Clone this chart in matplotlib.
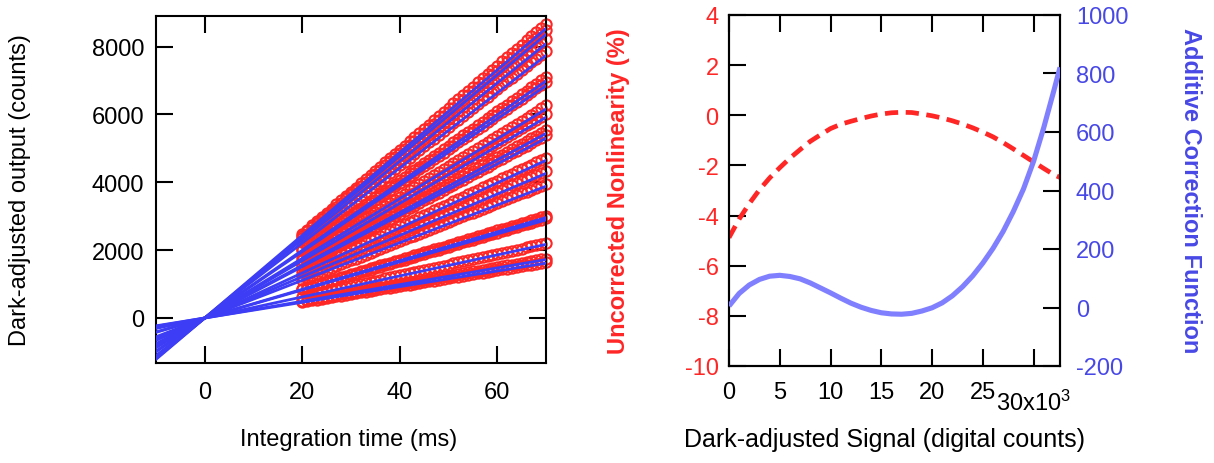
import matplotlib
matplotlib.use("Agg")
import matplotlib.pyplot as plt

plt.rcParams['font.family'] = ['Liberation Sans', 'DejaVu Sans']
plt.rcParams['axes.unicode_minus'] = False
plt.rcParams['mathtext.fontset'] = 'custom'
plt.rcParams['mathtext.rm'] = 'Liberation Sans'
plt.rcParams['mathtext.it'] = 'Liberation Sans:italic'
plt.rcParams['mathtext.bf'] = 'Liberation Sans:bold'

# ---------------- left panel data ----------------
integration_ms = [20, 21, 22, 23, 24, 25, 26, 27, 28, 29, 30, 31, 32, 33, 34, 35,
                  36, 37, 38, 39, 40, 41, 42, 43, 44, 45, 46, 47, 48, 49, 50, 51,
                  52, 53, 54, 55, 56, 57, 58, 59, 60, 61, 62, 63, 64, 65, 66, 67,
                  68, 69, 70]

red_counts = [
    [2480, 2604, 2728, 2852, 2976, 3100, 3224, 3348, 3472, 3596, 3720, 3844, 3968, 4092, 4216, 4340, 4464, 4588, 4712, 4836, 4960, 5084, 5208, 5332, 5456, 5580, 5704, 5828, 5952, 6076, 6200, 6324, 6448, 6572, 6696, 6820, 6944, 7068, 7192, 7316, 7440, 7564, 7688, 7812, 7936, 8060, 8184, 8308, 8432, 8556, 8680],
    [2430, 2552, 2673, 2795, 2916, 3038, 3159, 3281, 3402, 3524, 3645, 3767, 3888, 4010, 4131, 4253, 4374, 4496, 4617, 4739, 4860, 4982, 5103, 5225, 5346, 5468, 5589, 5711, 5832, 5954, 6075, 6197, 6318, 6440, 6561, 6683, 6804, 6926, 7047, 7169, 7290, 7412, 7533, 7655, 7776, 7898, 8019, 8141, 8262, 8384, 8505],
    [2350, 2468, 2585, 2703, 2820, 2938, 3055, 3173, 3290, 3408, 3525, 3643, 3760, 3878, 3995, 4113, 4230, 4348, 4465, 4583, 4700, 4818, 4935, 5053, 5170, 5288, 5405, 5523, 5640, 5758, 5875, 5993, 6110, 6228, 6345, 6463, 6580, 6698, 6815, 6933, 7050, 7168, 7285, 7403, 7520, 7638, 7755, 7873, 7990, 8108, 8225],
    [2250, 2363, 2475, 2588, 2700, 2813, 2925, 3038, 3150, 3263, 3375, 3488, 3600, 3713, 3825, 3938, 4050, 4163, 4275, 4388, 4500, 4613, 4725, 4838, 4950, 5063, 5175, 5288, 5400, 5513, 5625, 5738, 5850, 5963, 6075, 6188, 6300, 6413, 6525, 6638, 6750, 6863, 6975, 7088, 7200, 7313, 7425, 7538, 7650, 7763, 7875],
    [2030, 2132, 2233, 2335, 2436, 2538, 2639, 2741, 2842, 2944, 3045, 3147, 3248, 3350, 3451, 3553, 3654, 3756, 3857, 3959, 4060, 4162, 4263, 4365, 4466, 4568, 4669, 4771, 4872, 4974, 5075, 5177, 5278, 5380, 5481, 5583, 5684, 5786, 5887, 5989, 6090, 6192, 6293, 6395, 6496, 6598, 6699, 6801, 6902, 7004, 7105],
    [1990, 2090, 2189, 2289, 2388, 2488, 2587, 2687, 2786, 2886, 2985, 3085, 3184, 3284, 3383, 3483, 3582, 3682, 3781, 3881, 3980, 4080, 4179, 4279, 4378, 4478, 4577, 4677, 4776, 4876, 4975, 5075, 5174, 5274, 5373, 5473, 5572, 5672, 5771, 5871, 5970, 6070, 6169, 6269, 6368, 6468, 6567, 6667, 6766, 6866, 6965],
    [1790, 1880, 1969, 2059, 2148, 2238, 2327, 2417, 2506, 2596, 2685, 2775, 2864, 2954, 3043, 3133, 3222, 3312, 3401, 3491, 3580, 3670, 3759, 3849, 3938, 4028, 4117, 4207, 4296, 4386, 4475, 4565, 4654, 4744, 4833, 4923, 5012, 5102, 5191, 5281, 5370, 5460, 5549, 5639, 5728, 5818, 5907, 5997, 6086, 6176, 6265],
    [1720, 1806, 1892, 1978, 2064, 2150, 2236, 2322, 2408, 2494, 2580, 2666, 2752, 2838, 2924, 3010, 3096, 3182, 3268, 3354, 3440, 3526, 3612, 3698, 3784, 3870, 3956, 4042, 4128, 4214, 4300, 4386, 4472, 4558, 4644, 4730, 4816, 4902, 4988, 5074, 5160, 5246, 5332, 5418, 5504, 5590, 5676, 5762, 5848, 5934, 6020],
    [1580, 1659, 1738, 1817, 1896, 1975, 2054, 2133, 2212, 2291, 2370, 2449, 2528, 2607, 2686, 2765, 2844, 2923, 3002, 3081, 3160, 3239, 3318, 3397, 3476, 3555, 3634, 3713, 3792, 3871, 3950, 4029, 4108, 4187, 4266, 4345, 4424, 4503, 4582, 4661, 4740, 4819, 4898, 4977, 5056, 5135, 5214, 5293, 5372, 5451, 5530],
    [1540, 1617, 1694, 1771, 1848, 1925, 2002, 2079, 2156, 2233, 2310, 2387, 2464, 2541, 2618, 2695, 2772, 2849, 2926, 3003, 3080, 3157, 3234, 3311, 3388, 3465, 3542, 3619, 3696, 3773, 3850, 3927, 4004, 4081, 4158, 4235, 4312, 4389, 4466, 4543, 4620, 4697, 4774, 4851, 4928, 5005, 5082, 5159, 5236, 5313, 5390],
    [1350, 1418, 1485, 1553, 1620, 1688, 1755, 1823, 1890, 1958, 2025, 2093, 2160, 2228, 2295, 2363, 2430, 2498, 2565, 2633, 2700, 2768, 2835, 2903, 2970, 3038, 3105, 3173, 3240, 3308, 3375, 3443, 3510, 3578, 3645, 3713, 3780, 3848, 3915, 3983, 4050, 4118, 4185, 4253, 4320, 4388, 4455, 4523, 4590, 4658, 4725],
    [1240, 1302, 1364, 1426, 1488, 1550, 1612, 1674, 1736, 1798, 1860, 1922, 1984, 2046, 2108, 2170, 2232, 2294, 2356, 2418, 2480, 2542, 2604, 2666, 2728, 2790, 2852, 2914, 2976, 3038, 3100, 3162, 3224, 3286, 3348, 3410, 3472, 3534, 3596, 3658, 3720, 3782, 3844, 3906, 3968, 4030, 4092, 4154, 4216, 4278, 4340],
    [1130, 1187, 1243, 1300, 1356, 1413, 1469, 1526, 1582, 1639, 1695, 1752, 1808, 1865, 1921, 1978, 2034, 2091, 2147, 2204, 2260, 2317, 2373, 2430, 2486, 2543, 2599, 2656, 2712, 2769, 2825, 2882, 2938, 2995, 3051, 3108, 3164, 3221, 3277, 3334, 3390, 3447, 3503, 3560, 3616, 3673, 3729, 3786, 3842, 3899, 3955],
    [860, 903, 946, 989, 1032, 1075, 1118, 1161, 1204, 1247, 1290, 1333, 1376, 1419, 1462, 1505, 1548, 1591, 1634, 1677, 1720, 1763, 1806, 1849, 1892, 1935, 1978, 2021, 2064, 2107, 2150, 2193, 2236, 2279, 2322, 2365, 2408, 2451, 2494, 2537, 2580, 2623, 2666, 2709, 2752, 2795, 2838, 2881, 2924, 2967, 3010],
    [840, 882, 924, 966, 1008, 1050, 1092, 1134, 1176, 1218, 1260, 1302, 1344, 1386, 1428, 1470, 1512, 1554, 1596, 1638, 1680, 1722, 1764, 1806, 1848, 1890, 1932, 1974, 2016, 2058, 2100, 2142, 2184, 2226, 2268, 2310, 2352, 2394, 2436, 2478, 2520, 2562, 2604, 2646, 2688, 2730, 2772, 2814, 2856, 2898, 2940],
    [630, 662, 693, 725, 756, 788, 819, 851, 882, 914, 945, 977, 1008, 1040, 1071, 1103, 1134, 1166, 1197, 1229, 1260, 1292, 1323, 1355, 1386, 1418, 1449, 1481, 1512, 1544, 1575, 1607, 1638, 1670, 1701, 1733, 1764, 1796, 1827, 1859, 1890, 1922, 1953, 1985, 2016, 2048, 2079, 2111, 2142, 2174, 2205],
    [500, 525, 550, 575, 600, 625, 650, 675, 700, 725, 750, 775, 800, 825, 850, 875, 900, 925, 950, 975, 1000, 1025, 1050, 1075, 1100, 1125, 1150, 1175, 1200, 1225, 1250, 1275, 1300, 1325, 1350, 1375, 1400, 1425, 1450, 1475, 1500, 1525, 1550, 1575, 1600, 1625, 1650, 1675, 1700, 1725, 1750],
    [470, 494, 517, 541, 564, 588, 611, 635, 658, 682, 705, 729, 752, 776, 799, 823, 846, 870, 893, 917, 940, 964, 987, 1011, 1034, 1058, 1081, 1105, 1128, 1152, 1175, 1199, 1222, 1246, 1269, 1293, 1316, 1340, 1363, 1387, 1410, 1434, 1457, 1481, 1504, 1528, 1551, 1575, 1598, 1622, 1645],
]

# slopes (counts per ms) of the fitted lines through the origin
fit_slopes = [121.9, 119.4, 115.5, 110.6, 99.8, 97.8, 88.0, 84.5, 77.7, 75.7,
              66.4, 60.9, 55.5, 42.3, 41.3, 31.0, 24.6, 23.1]
fit_span_ms = [-10, 70]

left_xticks = [0, 20, 40, 60]
left_yticks = [0, 2000, 4000, 6000, 8000]

# ---------------- right panel data ----------------
signal_k = [0, 1, 2, 3, 4, 5, 6, 7, 8, 9, 10, 11, 12, 13, 14, 15, 16, 17, 18,
            19, 20, 21, 22, 23, 24, 25, 26, 27, 28, 29, 30, 31, 32, 32.6]
nonlinearity_pct = [-4.88, -4.14, -3.52, -2.97, -2.50, -2.09, -1.71, -1.37, -1.04,
                    -0.78, -0.53, -0.36, -0.24, -0.13, -0.03, 0.05, 0.10, 0.12,
                    0.11, 0.05, -0.02, -0.11, -0.22, -0.35, -0.50, -0.67, -0.86,
                    -1.09, -1.34, -1.60, -1.86, -2.12, -2.37, -2.48]
correction = [5, 48, 77, 96, 107, 110, 106, 98, 84, 67, 50, 32, 15, 1, -10, -18,
              -22, -23, -20, -12, -1, 16, 40, 71, 108, 152, 202, 260, 328, 405,
              500, 615, 742, 821]

right_xticks = [0, 5, 10, 15, 20, 25, 30]
right_xticklabels = ['0', '5', '10', '15', '20', '25', '']
left_pct_ticks = [-10, -8, -6, -4, -2, 0, 2, 4]
right_corr_ticks = [-200, 0, 200, 400, 600, 800, 1000]

RED = '#ff2626'
BLUE_LINE = '#3d3df5'
BLUE_CURVE = '#8080ff'
BLUE_TEXT = '#4848e6'

W, H = 1214, 464
fig = plt.figure(figsize=(W / 100, H / 100), dpi=100)

TL = 12.2   # tick length (pt)
TW = 1.5
SW = 1.5
TICKFS = 17
LABFS = 17

# ---------------- left panel ----------------
ax1 = fig.add_axes([156 / W, 1 - 364 / H, 390 / W, 347 / H])
for k, row in enumerate(red_counts):
    ax1.plot(integration_ms, row, linestyle='none', marker='o', ms=7.4,
             mfc='none', mec=RED, mew=1.5, clip_on=False, zorder=2)
    ax1.plot(fit_span_ms, [fit_slopes[k] * t for t in fit_span_ms],
             color=BLUE_LINE, lw=2.0, zorder=3)
ax1.set_xlim(-10, 70)
ax1.set_ylim(-1327, 8903)
ax1.set_xticks(left_xticks)
ax1.set_yticks(left_yticks)
ax1.tick_params(axis='both', direction='in', length=TL, width=TW,
                top=True, right=True, labelsize=TICKFS)
ax1.tick_params(axis='x', pad=13)
ax1.tick_params(axis='y', pad=8.5)
for s in ax1.spines.values():
    s.set_linewidth(SW)

fig.text(20 / W, 1 - 190 / H, 'Dark-adjusted output (counts)', rotation=90,
         ha='center', va='center', fontsize=LABFS)
fig.text(349 / W, 1 - 440 / H, 'Integration time (ms)',
         ha='center', va='center', fontsize=LABFS)

# ---------------- right panel ----------------
ax2 = fig.add_axes([729 / W, 1 - 367 / H, 331 / W, 351 / H])
ax3 = ax2.twinx()
ax2.plot(signal_k, nonlinearity_pct, color=RED, lw=3.4,
         dashes=(2.8, 1.6), dash_capstyle='butt', zorder=3)
ax3.plot(signal_k, correction, color=BLUE_CURVE, lw=3.7, zorder=3,
         solid_capstyle='butt')
ax2.set_xlim(0, 32.6)
ax2.set_ylim(-10, 4)
ax3.set_ylim(-200, 1000)
ax2.set_xticks(right_xticks)
ax2.set_xticklabels(right_xticklabels)
ax2.set_yticks(left_pct_ticks)
ax3.set_yticks(right_corr_ticks)
ax2.tick_params(axis='both', direction='in', length=TL, width=TW,
                top=True, right=False, labelsize=TICKFS)
ax2.tick_params(axis='x', pad=11)
ax2.tick_params(axis='y', pad=7.5, labelcolor=RED)
ax3.tick_params(axis='y', direction='in', length=TL, width=TW,
                labelsize=TICKFS, pad=11.5, labelcolor=BLUE_TEXT)
for a in (ax2, ax3):
    for s in a.spines.values():
        s.set_linewidth(SW)

ax2.text(30, -(411 - 367) / 351, '30x10$^{3}$', transform=ax2.get_xaxis_transform(),
         ha='center', va='baseline', fontsize=TICKFS)

fig.text(618 / W, 1 - 191 / H, 'Uncorrected Nonlinearity (%)', rotation=90,
         ha='center', va='center', fontsize=LABFS, fontweight='bold', color=RED)
fig.text(1191 / W, 1 - 191 / H, 'Additive Correction Function', rotation=270,
         ha='center', va='center', fontsize=LABFS, fontweight='bold', color=BLUE_TEXT)
fig.text(885 / W, 1 - 440 / H, 'Dark-adjusted Signal (digital counts)',
         ha='center', va='center', fontsize=18)

fig.savefig('out.png', dpi=100)
